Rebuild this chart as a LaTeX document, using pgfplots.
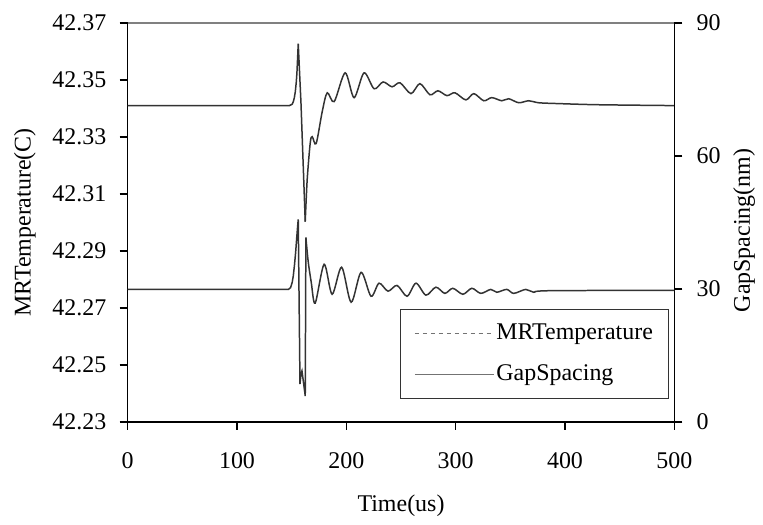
\documentclass[border=0pt]{standalone}
\usepackage{fontspec}
\setmainfont{Liberation Serif}
\usepackage{pgfplots}
\pgfplotsset{compat=1.18}
% MRTemperature: spike part (straight segments) and ringing part (smooth)
\pgfplotstableread{
t T
0 42.3410
148.0 42.3410
150.5 42.3415
151.5 42.3424
152.4 42.3437
153.3 42.3458
154.2 42.3492
154.8 42.3525
155.4 42.3575
156.0 42.3627
158.5 42.3420
162.4 42.3003
}\mrtempA
\pgfplotstableread{
t T
162.4 42.3003
164.2 42.3151
167.0 42.3280
168.8 42.3301
172.4 42.3277
177.9 42.3388
182.5 42.3455
188.9 42.3424
198.9 42.3525
207.1 42.3438
216.2 42.3525
225.4 42.3469
233.6 42.3493
241.8 42.3476
249.1 42.3490
259.1 42.3452
267.3 42.3487
276.5 42.3448
283.8 42.3462
292.0 42.3445
299.3 42.3455
309.3 42.3430
316.6 42.3452
325.7 42.3427
333.0 42.3438
342.2 42.3427
348.5 42.3434
357.7 42.3420
366.8 42.3427
375.9 42.3420
394.2 42.3417
430.7 42.3413
500 42.3410
}\mrtempB
% GapSpacing: spike part (straight segments) and ringing part (smooth)
\pgfplotstableread{
t G
0 29.9
147.0 29.9
149.0 30.3
150.5 31.5
151.5 33.0
152.6 35.5
153.7 38.5
154.6 41.5
155.4 44.0
156.0 45.7
157.6 8.55
158.5 10.8
159.4 11.5
160.5 9.5
162.4 5.85
163.0 41.6
}\gapA
\pgfplotstableread{
t G
163.0 41.6
165.1 36.2
167.9 31.5
171.5 26.8
179.7 35.55
187.0 28.8
195.7 34.9
204.4 27.0
213.5 33.75
222.6 28.35
229.9 31.3
238.1 29.5
246.4 30.8
255.5 28.35
263.7 31.3
272.8 28.6
281.9 30.4
290.1 29.0
297.4 30.15
306.6 28.8
314.8 30.15
323.0 29.0
332.1 29.9
337.6 29.25
346.7 29.9
353.1 29.0
364.1 29.9
371.4 29.25
385 29.6
500 29.7
}\gapB
\begin{document}
\fontsize{12bp}{14bp}\selectfont
\begin{tikzpicture}[font=\fontsize{12bp}{14bp}\selectfont]
\pgfplotsset{
  common/.style={
    scale only axis, width=274bp, height=200bp,
    xmin=0, xmax=500, at={(0,0)}, anchor=south west,
    /pgf/number format/assume math mode=true,
    tick align=outside, major tick length=4bp,
    tick style={black, line width=0.8pt},
    axis line style={black, line width=0.8pt},
    tick label style={font=\fontsize{12bp}{14bp}\selectfont},
    label style={font=\fontsize{12bp}{14bp}\selectfont, inner sep=0pt},
  },
}
\begin{axis}[common, name=ax,
  axis x line*=bottom, axis y line*=left,
  ymin=42.23, ymax=42.37,
  ytick={42.23,42.25,42.27,42.29,42.31,42.33,42.35,42.37},
  yticklabel style={xshift=-2.5bp, /pgf/number format/.cd, fixed, fixed zerofill, precision=2},
  xticklabel style={yshift=-7bp},
  xtick={0,100,200,300,400,500},
  xlabel={Time(us)}, ylabel={MRTemperature(C)},
  every axis x label/.style={at={(axis description cs:0.5,-0.21)}, anchor=center},
  every axis y label/.style={at={(axis description cs:-0.188,0.5)}, rotate=90, anchor=center},
]
\addplot[black!80, line width=0.75bp] table[x=t, y=T] {\mrtempA};
\addplot[black!80, line width=0.75bp, smooth, tension=0.5] table[x=t, y=T] {\mrtempB};
\end{axis}
\begin{axis}[common,
  axis x line=none, axis y line*=right,
  ymin=0, ymax=90, ytick={0,30,60,90},
  yticklabel style={xshift=3bp},
  ylabel={GapSpacing(nm)},
  every axis y label/.style={at={(axis description cs:1.1277,0.48)}, rotate=90, anchor=center},
  legend image code/.code={\draw[#1] (0bp,0bp) -- (39.5bp,0bp);},
  legend cell align=left,
  legend style={at={(0.991,0.0575)}, anchor=south east, draw=black!80, line width=0.6pt,
    fill=white, inner xsep=7bp, inner ysep=6bp, row sep=9bp,
    nodes={inner sep=1bp}, font=\fontsize{12bp}{14bp}\selectfont},
]
\addlegendimage{black!55, line width=0.75bp, dash pattern=on 2bp off 2bp}
\addlegendentry{MRTemperature}
\addlegendimage{black!55, line width=0.75bp}
\addlegendentry{GapSpacing}
\addplot[black!80, line width=0.75bp, forget plot] table[x=t, y=G] {\gapA};
\addplot[black!80, line width=0.75bp, smooth, tension=0.5, forget plot] table[x=t, y=G] {\gapB};
\end{axis}
\draw[black!50, line width=1bp] (ax.north west) -- (ax.north east);
\path ([xshift=-64bp,yshift=-49bp]ax.south west) rectangle ([xshift=43.5bp,yshift=11.5bp]ax.north east);
\end{tikzpicture}
\end{document}
